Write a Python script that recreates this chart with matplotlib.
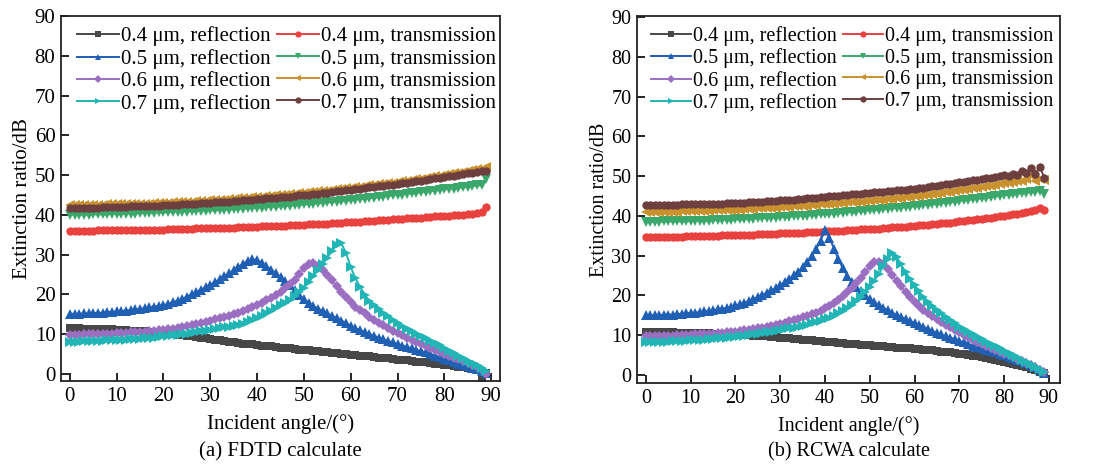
import matplotlib
matplotlib.use("Agg")
import matplotlib.pyplot as plt
import numpy as np

angles = list(range(90))

labels = ["0.4 μm, reflection", "0.4 μm, transmission",
          "0.5 μm, reflection", "0.5 μm, transmission",
          "0.6 μm, reflection", "0.6 μm, transmission",
          "0.7 μm, reflection", "0.7 μm, transmission"]

# ---------------- (a) FDTD ----------------
fdtd_r04 = [11.5, 11.5, 11.5, 11.4, 11.4, 11.4, 11.3, 11.3, 11.2, 11.2,
            11.1, 11.1, 11.0, 10.9, 10.9, 10.8, 10.7, 10.6, 10.5, 10.4,
            10.3, 10.1, 10.0, 9.8, 9.7, 9.5, 9.4, 9.2, 9.0, 8.9,
            8.7, 8.6, 8.4, 8.3, 8.1, 8.0, 7.8, 7.6, 7.5, 7.4,
            7.2, 7.1, 7.0, 6.9, 6.7, 6.6, 6.5, 6.4, 6.3, 6.1,
            6.0, 5.9, 5.8, 5.7, 5.6, 5.4, 5.3, 5.2, 5.1, 4.9,
            4.8, 4.7, 4.6, 4.5, 4.4, 4.2, 4.1, 4.0, 3.9, 3.8,
            3.6, 3.5, 3.4, 3.3, 3.1, 3.0, 2.9, 2.7, 2.6, 2.4,
            2.3, 2.1, 2.0, 1.8, 1.6, 1.5, 1.3, 1.0, -1.2, 0.2]
fdtd_t04 = [36.0, 36.0, 36.0, 36.0, 36.0, 36.0, 36.1, 36.1, 36.1, 36.1,
            36.1, 36.1, 36.2, 36.2, 36.2, 36.2, 36.2, 36.3, 36.3, 36.3,
            36.3, 36.4, 36.4, 36.4, 36.5, 36.5, 36.5, 36.6, 36.6, 36.6,
            36.7, 36.7, 36.7, 36.8, 36.8, 36.8, 36.9, 36.9, 37.0, 37.0,
            37.0, 37.1, 37.1, 37.2, 37.2, 37.3, 37.3, 37.4, 37.4, 37.5,
            37.5, 37.6, 37.6, 37.7, 37.8, 37.8, 37.9, 38.0, 38.0, 38.1,
            38.2, 38.2, 38.3, 38.4, 38.5, 38.5, 38.6, 38.7, 38.8, 38.9,
            39.0, 39.0, 39.1, 39.2, 39.3, 39.3, 39.4, 39.5, 39.6, 39.7,
            39.8, 39.8, 39.9, 40.0, 40.0, 40.1, 40.2, 40.4, 40.8, 41.9]
fdtd_r05 = [15.1, 15.1, 15.1, 15.2, 15.2, 15.3, 15.3, 15.4, 15.5, 15.6,
            15.7, 15.8, 15.9, 16.0, 16.2, 16.3, 16.5, 16.7, 16.9, 17.1,
            17.3, 17.6, 18.0, 18.4, 18.9, 19.4, 20.0, 20.6, 21.2, 21.8,
            22.4, 23.1, 23.8, 24.6, 25.3, 26.1, 26.9, 27.7, 28.4, 28.8,
            28.6, 28.0, 27.1, 26.2, 25.3, 24.3, 23.3, 22.4, 21.1, 19.9,
            18.8, 17.9, 17.1, 16.4, 15.8, 15.2, 14.6, 14.0, 13.4, 12.8,
            12.1, 11.5, 11.0, 10.5, 10.0, 9.6, 9.1, 8.7, 8.2, 7.9,
            7.5, 7.1, 6.8, 6.4, 6.0, 5.7, 5.4, 5.0, 4.6, 4.2,
            3.8, 3.4, 3.0, 2.6, 2.3, 1.9, 1.5, 1.1, 0.7, 0.2]
fdtd_t05 = [40.0, 40.0, 40.0, 40.0, 40.0, 40.1, 40.1, 40.1, 40.1, 40.2,
            40.2, 40.2, 40.3, 40.3, 40.3, 40.4, 40.4, 40.5, 40.5, 40.6,
            40.6, 40.6, 40.7, 40.7, 40.8, 40.8, 40.9, 40.9, 41.0, 41.0,
            41.1, 41.1, 41.2, 41.3, 41.3, 41.4, 41.5, 41.5, 41.6, 41.7,
            41.7, 41.8, 41.9, 42.0, 42.0, 42.1, 42.2, 42.3, 42.4, 42.5,
            42.6, 42.7, 42.8, 42.9, 43.0, 43.1, 43.2, 43.3, 43.4, 43.5,
            43.7, 43.8, 43.9, 44.0, 44.2, 44.3, 44.4, 44.6, 44.7, 44.9,
            45.0, 45.1, 45.3, 45.4, 45.5, 45.7, 45.8, 45.9, 46.1, 46.2,
            46.4, 46.5, 46.6, 46.8, 46.9, 47.0, 47.2, 47.4, 47.4, 48.9]
fdtd_r06 = [9.8, 9.8, 9.8, 9.9, 9.9, 9.9, 10.0, 10.0, 10.1, 10.1,
            10.2, 10.2, 10.3, 10.4, 10.5, 10.5, 10.6, 10.7, 10.8, 11.0,
            11.1, 11.2, 11.4, 11.6, 11.8, 12.0, 12.2, 12.5, 12.8, 13.1,
            13.4, 13.7, 14.0, 14.3, 14.6, 15.0, 15.4, 15.8, 16.3, 16.8,
            17.3, 17.9, 18.5, 19.1, 19.8, 20.6, 21.5, 22.5, 23.7, 25.2,
            26.7, 27.6, 28.0, 27.2, 26.2, 24.9, 23.5, 22.0, 20.5, 19.3,
            18.0, 16.9, 16.0, 15.2, 14.3, 13.6, 12.9, 12.2, 11.5, 10.9,
            10.3, 9.7, 9.1, 8.5, 7.9, 7.4, 6.9, 6.4, 5.9, 5.5,
            5.0, 4.5, 4.1, 3.7, 3.2, 2.8, 2.3, 1.7, 1.0, 0.0]
fdtd_t06 = [42.4, 42.4, 42.4, 42.4, 42.5, 42.5, 42.5, 42.5, 42.6, 42.6,
            42.6, 42.6, 42.7, 42.7, 42.7, 42.8, 42.8, 42.8, 42.9, 42.9,
            43.0, 43.0, 43.1, 43.1, 43.2, 43.3, 43.3, 43.4, 43.5, 43.5,
            43.6, 43.7, 43.7, 43.8, 43.9, 44.0, 44.1, 44.2, 44.3, 44.4,
            44.5, 44.6, 44.7, 44.8, 44.9, 45.0, 45.1, 45.2, 45.3, 45.5,
            45.6, 45.7, 45.8, 45.9, 46.0, 46.1, 46.3, 46.4, 46.5, 46.7,
            46.8, 46.9, 47.1, 47.2, 47.4, 47.5, 47.7, 47.8, 48.0, 48.1,
            48.3, 48.5, 48.6, 48.8, 49.0, 49.1, 49.3, 49.5, 49.7, 49.8,
            50.0, 50.2, 50.4, 50.6, 50.8, 51.0, 51.2, 51.4, 51.6, 51.9]
fdtd_r07 = [8.1, 8.1, 8.1, 8.2, 8.2, 8.2, 8.3, 8.3, 8.4, 8.4,
            8.5, 8.5, 8.6, 8.7, 8.7, 8.8, 8.9, 9.0, 9.1, 9.3,
            9.4, 9.5, 9.7, 9.8, 10.0, 10.1, 10.3, 10.5, 10.7, 10.9,
            11.1, 11.3, 11.5, 11.7, 11.9, 12.1, 12.3, 12.6, 13.0, 13.5,
            14.0, 14.6, 15.2, 15.8, 16.5, 17.2, 17.9, 18.6, 19.5, 20.5,
            21.7, 23.0, 24.5, 26.1, 27.7, 29.2, 31.0, 32.5, 32.8, 30.4,
            26.9, 24.0, 21.9, 19.9, 18.3, 17.2, 16.2, 15.3, 14.5, 13.6,
            12.8, 12.1, 11.4, 10.7, 10.1, 9.5, 8.9, 8.3, 7.7, 7.2,
            6.4, 5.8, 5.2, 4.6, 4.0, 3.3, 2.7, 2.1, 1.5, 0.8]
fdtd_t07 = [41.7, 41.7, 41.7, 41.8, 41.8, 41.8, 41.8, 41.9, 41.9, 41.9,
            42.0, 42.0, 42.0, 42.1, 42.1, 42.2, 42.2, 42.2, 42.3, 42.3,
            42.4, 42.4, 42.5, 42.5, 42.6, 42.7, 42.7, 42.8, 42.9, 42.9,
            43.0, 43.1, 43.2, 43.2, 43.3, 43.4, 43.5, 43.6, 43.7, 43.8,
            43.9, 44.0, 44.1, 44.2, 44.3, 44.4, 44.5, 44.6, 44.7, 44.9,
            45.0, 45.1, 45.2, 45.3, 45.5, 45.6, 45.7, 45.9, 46.0, 46.2,
            46.3, 46.4, 46.6, 46.7, 46.9, 47.0, 47.2, 47.3, 47.5, 47.6,
            47.8, 48.0, 48.1, 48.3, 48.5, 48.6, 48.8, 49.0, 49.2, 49.3,
            49.5, 49.7, 49.8, 50.0, 50.2, 50.4, 50.6, 50.7, 50.9, 51.1]

# ---------------- (b) RCWA ----------------
rcwa_r04 = [10.7, 10.7, 10.7, 10.7, 10.7, 10.7, 10.7, 10.6, 10.6, 10.6,
            10.6, 10.6, 10.5, 10.5, 10.5, 10.4, 10.4, 10.3, 10.3, 10.2,
            10.2, 10.1, 10.1, 10.0, 9.9, 9.9, 9.8, 9.7, 9.6, 9.5,
            9.4, 9.3, 9.2, 9.1, 9.0, 8.9, 8.8, 8.7, 8.6, 8.5,
            8.4, 8.3, 8.2, 8.1, 8.0, 7.9, 7.8, 7.7, 7.6, 7.6,
            7.5, 7.4, 7.3, 7.2, 7.1, 7.0, 6.9, 6.8, 6.7, 6.7,
            6.6, 6.5, 6.4, 6.3, 6.2, 6.1, 5.9, 5.8, 5.7, 5.5,
            5.4, 5.2, 5.1, 4.9, 4.7, 4.5, 4.3, 4.1, 3.9, 3.6,
            3.4, 3.1, 2.8, 2.5, 2.2, 1.9, 1.6, 1.2, 0.8, 0.4]
rcwa_t04 = [34.7, 34.7, 34.7, 34.7, 34.8, 34.8, 34.8, 34.8, 34.8, 34.9,
            34.9, 34.9, 34.9, 35.0, 35.0, 35.0, 35.0, 35.1, 35.1, 35.1,
            35.2, 35.2, 35.2, 35.3, 35.3, 35.4, 35.4, 35.4, 35.5, 35.5,
            35.6, 35.6, 35.7, 35.7, 35.8, 35.8, 35.9, 35.9, 36.0, 36.0,
            36.1, 36.1, 36.2, 36.3, 36.3, 36.4, 36.4, 36.5, 36.6, 36.6,
            36.7, 36.8, 36.8, 36.9, 37.0, 37.1, 37.1, 37.2, 37.3, 37.4,
            37.5, 37.6, 37.7, 37.8, 37.9, 38.0, 38.1, 38.2, 38.3, 38.5,
            38.6, 38.7, 38.9, 39.0, 39.1, 39.3, 39.4, 39.6, 39.7, 39.9,
            40.0, 40.2, 40.4, 40.6, 40.8, 41.0, 41.2, 41.5, 41.9, 41.5]
rcwa_r05 = [15.0, 15.0, 15.0, 15.1, 15.1, 15.2, 15.2, 15.3, 15.4, 15.5,
            15.6, 15.7, 15.8, 16.0, 16.1, 16.3, 16.5, 16.7, 16.9, 17.2,
            17.5, 17.8, 18.2, 18.6, 19.1, 19.6, 20.1, 20.7, 21.3, 21.9,
            22.6, 23.4, 24.2, 25.1, 26.0, 27.1, 28.3, 29.8, 31.6, 33.8,
            36.4, 34.5, 31.8, 29.1, 26.8, 25.0, 23.5, 22.2, 21.0, 20.0,
            19.1, 18.3, 17.6, 16.9, 16.3, 15.7, 15.1, 14.6, 14.1, 13.6,
            13.1, 12.6, 12.1, 11.6, 11.1, 10.6, 10.2, 9.8, 9.4, 9.0,
            8.6, 8.2, 7.8, 7.4, 7.1, 6.7, 6.4, 6.0, 5.7, 5.3,
            5.0, 4.6, 4.2, 3.9, 3.5, 3.1, 2.6, 2.0, 1.3, 0.5]
rcwa_t05 = [38.5, 38.5, 38.5, 38.5, 38.6, 38.6, 38.6, 38.6, 38.7, 38.7,
            38.7, 38.7, 38.8, 38.8, 38.8, 38.9, 38.9, 39.0, 39.0, 39.0,
            39.1, 39.1, 39.2, 39.2, 39.3, 39.4, 39.4, 39.5, 39.5, 39.6,
            39.7, 39.7, 39.8, 39.9, 40.0, 40.0, 40.1, 40.2, 40.3, 40.4,
            40.5, 40.6, 40.6, 40.7, 40.8, 40.9, 41.0, 41.1, 41.2, 41.3,
            41.4, 41.5, 41.6, 41.7, 41.8, 41.9, 42.0, 42.1, 42.2, 42.3,
            42.4, 42.5, 42.7, 42.8, 42.9, 43.0, 43.2, 43.3, 43.4, 43.6,
            43.7, 43.9, 44.0, 44.2, 44.3, 44.4, 44.6, 44.7, 44.9, 45.0,
            45.2, 45.3, 45.5, 45.6, 45.7, 45.8, 46.0, 46.1, 46.3, 45.4]
rcwa_r06 = [9.8, 9.8, 9.8, 9.9, 9.9, 9.9, 9.9, 10.0, 10.0, 10.1,
            10.1, 10.2, 10.2, 10.3, 10.4, 10.4, 10.5, 10.6, 10.7, 10.8,
            10.9, 11.0, 11.2, 11.3, 11.5, 11.7, 11.9, 12.1, 12.3, 12.6,
            12.9, 13.2, 13.5, 13.8, 14.1, 14.5, 14.9, 15.3, 15.7, 16.2,
            16.8, 17.4, 18.1, 18.9, 19.8, 20.8, 21.9, 23.1, 24.4, 25.9,
            27.3, 28.3, 28.5, 27.8, 26.6, 25.1, 23.6, 22.3, 20.9, 19.6,
            18.4, 17.4, 16.4, 15.6, 14.8, 14.0, 13.3, 12.6, 12.0, 11.3,
            10.7, 10.1, 9.5, 8.9, 8.4, 7.9, 7.4, 6.9, 6.4, 5.9,
            5.4, 5.0, 4.5, 4.0, 3.5, 3.0, 2.5, 1.9, 1.3, 0.7]
rcwa_t06 = [41.0, 41.0, 41.0, 41.0, 41.1, 41.1, 41.1, 41.1, 41.2, 41.2,
            41.2, 41.2, 41.3, 41.3, 41.3, 41.4, 41.4, 41.5, 41.5, 41.5,
            41.6, 41.6, 41.7, 41.7, 41.8, 41.9, 41.9, 42.0, 42.1, 42.1,
            42.2, 42.3, 42.3, 42.4, 42.5, 42.6, 42.6, 42.7, 42.8, 42.9,
            43.0, 43.1, 43.1, 43.2, 43.3, 43.4, 43.5, 43.5, 43.6, 43.7,
            43.8, 43.9, 44.0, 44.1, 44.2, 44.3, 44.4, 44.5, 44.7, 44.8,
            44.9, 45.0, 45.2, 45.3, 45.5, 45.6, 45.8, 45.9, 46.1, 46.3,
            46.5, 46.6, 46.8, 47.0, 47.1, 47.3, 47.5, 47.6, 47.8, 48.0,
            48.2, 48.3, 48.5, 48.7, 48.9, 49.4, 50.2, 48.7, 49.3, 49.0]
rcwa_r07 = [8.3, 8.3, 8.3, 8.4, 8.4, 8.4, 8.5, 8.5, 8.6, 8.6,
            8.7, 8.7, 8.8, 8.9, 9.0, 9.1, 9.2, 9.3, 9.4, 9.5,
            9.6, 9.7, 9.9, 10.0, 10.2, 10.3, 10.5, 10.7, 10.9, 11.1,
            11.3, 11.5, 11.7, 11.9, 12.2, 12.4, 12.7, 13.0, 13.3, 13.7,
            14.0, 14.4, 14.9, 15.5, 16.2, 16.9, 17.7, 18.6, 19.6, 20.8,
            22.2, 23.7, 25.4, 27.3, 29.1, 30.6, 29.6, 27.8, 25.8, 24.2,
            22.6, 21.0, 19.5, 18.4, 17.4, 16.4, 15.5, 14.6, 13.8, 13.0,
            12.2, 11.5, 10.8, 10.2, 9.6, 9.0, 8.4, 7.8, 7.2, 6.7,
            6.1, 5.6, 5.0, 4.5, 3.9, 3.3, 2.7, 2.1, 1.4, 0.8]
rcwa_t07 = [42.7, 42.7, 42.7, 42.7, 42.8, 42.8, 42.8, 42.8, 42.9, 42.9,
            42.9, 42.9, 43.0, 43.0, 43.0, 43.1, 43.1, 43.1, 43.2, 43.2,
            43.2, 43.3, 43.3, 43.4, 43.5, 43.5, 43.6, 43.7, 43.7, 43.8,
            43.9, 43.9, 44.0, 44.1, 44.2, 44.3, 44.4, 44.5, 44.6, 44.7,
            44.8, 44.9, 45.0, 45.1, 45.2, 45.3, 45.4, 45.5, 45.6, 45.7,
            45.8, 45.9, 46.0, 46.1, 46.2, 46.3, 46.4, 46.5, 46.6, 46.7,
            46.8, 47.0, 47.1, 47.3, 47.4, 47.6, 47.7, 47.9, 48.1, 48.3,
            48.5, 48.6, 48.7, 49.0, 49.1, 49.3, 49.6, 49.5, 49.9, 50.0,
            50.2, 50.0, 50.6, 50.4, 51.4, 50.7, 52.0, 50.6, 52.4, 49.5]

fdtd_series = [fdtd_r04, fdtd_t04, fdtd_r05, fdtd_t05, fdtd_r06, fdtd_t06, fdtd_r07, fdtd_t07]
rcwa_series = [rcwa_r04, rcwa_t04, rcwa_r05, rcwa_t05, rcwa_r06, rcwa_t06, rcwa_r07, rcwa_t07]

xticks = [0, 10, 20, 30, 40, 50, 60, 70, 80, 90]
yticks = [0, 10, 20, 30, 40, 50, 60, 70, 80, 90]

colors = ['#474747', '#e8413e', '#1f5fb4', '#3aa86b', '#9a6fc1', '#c9922f', '#22b5b5', '#6e3f3f']
markers = ['s', 'o', '^', 'v', 'D', '<', '>', 'o']
msizes = [5.5, 6, 6.5, 6.5, 5, 6.5, 6.5, 6]

plt.rcParams['font.family'] = ['Liberation Serif', 'DejaVu Serif']
plt.rcParams['mathtext.fontset'] = 'stix'

fig = plt.figure(figsize=(11.01, 4.66), dpi=100)
ax1 = fig.add_axes([61/1101, 1-381/466, 439/1101, 365/466])
ax2 = fig.add_axes([637/1101, 1-383/466, 423/1101, 367/466])


def draw(ax, series, xlim, ylim, title, ax_h, fs, leg_x):
    handles = []
    for s, c, m, ms, lab in zip(series, colors, markers, msizes, labels):
        h, = ax.plot(angles, s, color=c, marker=m, markersize=ms, lw=1.4,
                     markeredgewidth=0, label=lab)
        handles.append(h)
    ax.set_xlim(*xlim)
    ax.set_ylim(*ylim)
    ax.set_xticks(xticks)
    ax.set_yticks(yticks)
    ax.tick_params(direction='in', length=6, width=1.2, labelsize=fs,
                   top=False, right=False, pad=4)
    for sp in ax.spines.values():
        sp.set_linewidth(1.3)
        sp.set_color('#222222')
    ax.set_xlabel('Incident angle/(°)', fontsize=fs, labelpad=6)
    ax.set_ylabel('Extinction ratio/dB', fontsize=fs, labelpad=2)
    order = [0, 2, 4, 6, 1, 3, 5, 7]
    leg_handles = [handles[i] for i in order]
    leg_labels = [labels[i] for i in order]
    ax.legend(leg_handles, leg_labels, ncol=2, loc='upper left',
              bbox_to_anchor=(leg_x, 0.994),
              frameon=False, fontsize=fs, handlelength=2.0,
              handletextpad=0.1, columnspacing=0.3, labelspacing=0.12,
              borderaxespad=0.0, markerscale=0.75)
    ax.text(0.5, -(452 - ax_h[1]) / ax_h[0], title, transform=ax.transAxes,
            ha='center', va='center', fontsize=fs)

draw(ax1, fdtd_series, (-1.9, 91.9), (-1.8, 90), '(a) FDTD calculate', (365, 381), 15, 0.018)
draw(ax2, rcwa_series, (-2.0, 92.5), (-2.0, 90.25), '(b) RCWA calculate', (367, 383), 14.5, 0.014)

fig.savefig('out.png', dpi=100)
